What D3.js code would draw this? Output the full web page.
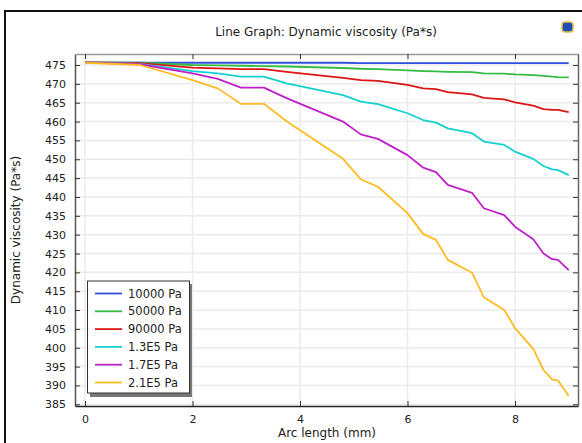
<!DOCTYPE html>
<html>
<head>
<meta charset="utf-8">
<script src="https://cdn.jsdelivr.net/npm/d3@7"></script>
<style>
  body { margin: 0; background: #fff; }
  svg { display: block; font-family: "DejaVu Sans", sans-serif; }
</style>
</head>
<body>
<div id="chart"></div>
<script>
// arc length nodes (mm)
const arcLength = [0, 1.02, 2.0, 2.47, 2.9, 3.33, 3.75, 4.8, 5.13, 5.45, 6.0, 6.29, 6.53, 6.75, 7.2, 7.42, 7.8, 8.0, 8.34, 8.53, 8.69, 8.8, 9.0];

const seriesNames = ["10000 Pa", "50000 Pa", "90000 Pa", "1.3E5 Pa", "1.7E5 Pa", "2.1E5 Pa"];

const visc10k = [475.6, 475.6, 475.6, 475.6, 475.6, 475.6, 475.6, 475.6, 475.5, 475.5, 475.5, 475.5, 475.5, 475.5, 475.5, 475.5, 475.5, 475.5, 475.5, 475.5, 475.5, 475.5, 475.5];
const visc50k = [475.7, 475.6, 475.0, 474.9, 474.8, 474.7, 474.6, 474.2, 474.0, 473.9, 473.6, 473.4, 473.3, 473.2, 473.1, 472.8, 472.7, 472.5, 472.3, 472.1, 471.9, 471.8, 471.7];
const visc90k = [475.7, 475.5, 474.3, 474.1, 473.9, 473.9, 473.2, 471.6, 471.0, 470.8, 469.7, 468.8, 468.6, 467.8, 467.2, 466.3, 465.9, 465.1, 464.2, 463.3, 463.1, 463.1, 462.5];
const visc130k = [475.7, 475.3, 473.4, 472.8, 471.9, 471.9, 470.1, 467.0, 465.3, 464.6, 462.2, 460.4, 459.7, 458.2, 456.9, 454.7, 453.8, 452.0, 450.1, 448.2, 447.3, 447.1, 445.8];
const visc170k = [475.7, 475.2, 472.8, 471.3, 469.0, 469.0, 466.2, 460.0, 456.6, 455.4, 451.1, 447.8, 446.6, 443.2, 441.1, 437.0, 435.2, 432.1, 428.8, 425.0, 423.5, 423.3, 420.6];
const visc210k = [475.6, 475.0, 471.0, 468.8, 464.7, 464.7, 460.1, 450.1, 444.7, 442.7, 435.7, 430.2, 428.6, 423.3, 419.9, 413.4, 410.0, 405.2, 399.7, 394.1, 391.6, 391.3, 387.2];

const seriesValues = [visc10k, visc50k, visc90k, visc130k, visc170k, visc210k];
const xTicks = [0, 2, 4, 6, 8];
const yTicks = d3.range(385, 476, 5);

const colors = ["#3050e0", "#33bb44", "#dd1515", "#15d0d0", "#c020c8", "#ffbb22"];

const W = 582, H = 443;
const plot = { left: 75, top: 54, right: 578, bottom: 406 };

const svg = d3.select("#chart").append("svg")
    .attr("width", W)
    .attr("height", H);

// outer window frame
svg.append("path")
    .attr("d", `M5,${H} V11 H${W}`)
    .attr("fill", "none")
    .attr("stroke", "#111")
    .attr("stroke-width", 2);

// small icon top right
svg.append("rect")
    .attr("x", 562).attr("y", 22).attr("width", 11).attr("height", 10)
    .attr("rx", 3)
    .attr("fill", "#1d4fb8")
    .attr("stroke", "#e0c040").attr("stroke-width", 1.5);

svg.append("text")
    .attr("x", 326).attr("y", 36)
    .attr("text-anchor", "middle")
    .attr("font-size", 12)
    .attr("fill", "#222")
    .text("Line Graph: Dynamic viscosity (Pa*s)");

const x = d3.scaleLinear()
    .domain([(plot.left - 85) / 53.75, (plot.right - 85) / 53.75])
    .range([plot.left, plot.right]);

const y = d3.scaleLinear()
    .domain([475 - (plot.bottom - 65) / 3.77, 475 + (65 - plot.top) / 3.77])
    .range([plot.bottom, plot.top]);

// grid
svg.append("g")
    .selectAll("line.h")
    .data(yTicks)
    .join("line")
    .attr("x1", plot.left).attr("x2", plot.right)
    .attr("y1", d => y(d)).attr("y2", d => y(d))
    .attr("stroke", "#ebebeb").attr("stroke-width", 1.5);

svg.append("g")
    .selectAll("line.v")
    .data(xTicks)
    .join("line")
    .attr("x1", d => x(d)).attr("x2", d => x(d))
    .attr("y1", plot.top).attr("y2", plot.bottom)
    .attr("stroke", "#ebebeb").attr("stroke-width", 1.5);

// axes (ticks pointing inward)
const bottomAxis = svg.append("g")
    .attr("transform", `translate(0,${plot.bottom})`)
    .call(d3.axisBottom(x).tickValues(xTicks).tickSizeInner(-5).tickSizeOuter(0).tickPadding(9));
const leftAxis = svg.append("g")
    .attr("transform", `translate(${plot.left},0)`)
    .call(d3.axisLeft(y).tickValues(yTicks).tickSizeInner(-5).tickSizeOuter(0).tickPadding(9));
const topAxis = svg.append("g")
    .attr("transform", `translate(0,${plot.top})`)
    .call(d3.axisTop(x).tickValues(xTicks).tickSizeInner(-5).tickSizeOuter(0).tickFormat(""));
const rightAxis = svg.append("g")
    .attr("transform", `translate(${plot.right},0)`)
    .call(d3.axisRight(y).tickValues(yTicks).tickSizeInner(-5).tickSizeOuter(0).tickFormat(""));

[bottomAxis, leftAxis, topAxis, rightAxis].forEach(g => {
    g.selectAll("text").attr("font-size", 11).attr("fill", "#222").attr("font-family", "DejaVu Sans, sans-serif");
    g.selectAll("line").attr("stroke", "#333");
});
topAxis.select(".domain").attr("stroke", "#999").attr("stroke-width", 1.5);
rightAxis.select(".domain").attr("stroke", "#666").attr("stroke-width", 1.5);
leftAxis.select(".domain").attr("stroke", "#555").attr("stroke-width", 1.5);
bottomAxis.select(".domain").attr("stroke", "#222").attr("stroke-width", 1.5);

// lines
const line = d3.line()
    .x((d, i) => x(arcLength[i]))
    .y(d => y(d));

svg.append("g")
    .selectAll("path")
    .data(seriesValues)
    .join("path")
    .attr("fill", "none")
    .attr("stroke", (d, i) => colors[i])
    .attr("stroke-width", 1.8)
    .attr("stroke-linejoin", "round")
    .attr("d", line);

// axis labels
svg.append("text")
    .attr("x", 327).attr("y", 437)
    .attr("text-anchor", "middle")
    .attr("font-size", 12)
    .attr("fill", "#222")
    .text("Arc length (mm)");

svg.append("text")
    .attr("transform", "translate(20,230) rotate(-90)")
    .attr("text-anchor", "middle")
    .attr("font-size", 12)
    .attr("fill", "#222")
    .text("Dynamic viscosity (Pa*s)");

// legend
const lg = svg.append("g");
lg.append("rect")
    .attr("x", 90).attr("y", 284).attr("width", 102).attr("height", 113)
    .attr("fill", "#777");
lg.append("rect")
    .attr("x", 87.5).attr("y", 281).attr("width", 102).attr("height", 112)
    .attr("fill", "#fff").attr("stroke", "#333").attr("stroke-width", 1);

const items = lg.selectAll("g.item")
    .data(seriesNames)
    .join("g")
    .attr("transform", (d, i) => `translate(0,${293.5 + i * 17.8})`);
items.append("line")
    .attr("x1", 95).attr("x2", 122)
    .attr("stroke", (d, i) => colors[i])
    .attr("stroke-width", 1.8);
items.append("text")
    .attr("x", 128).attr("dy", "0.35em")
    .attr("font-size", 11.5)
    .attr("fill", "#222")
    .text(d => d);
</script>
</body>
</html>
